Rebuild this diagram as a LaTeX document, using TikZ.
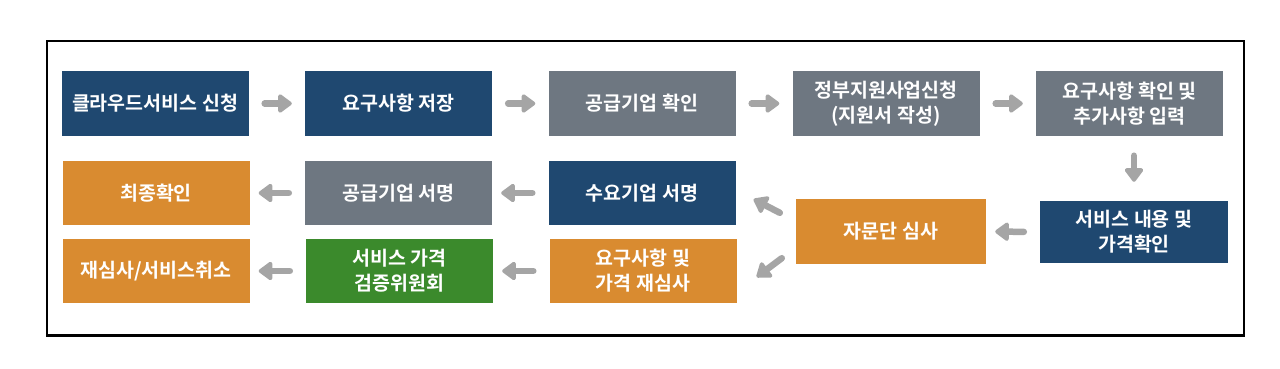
\documentclass[tikz,border=0pt]{standalone}
\usepackage{fontspec}
\setmainfont{Noto Sans CJK KR Bold}
\usetikzlibrary{arrows.meta}
\definecolor{cblue}{HTML}{1F4870}
\definecolor{cgray}{HTML}{6E7781}
\definecolor{corange}{HTML}{D98B30}
\definecolor{cgreen}{HTML}{3B8A2C}
\definecolor{carrow}{HTML}{A5A5A5}
\tikzset{
  box/.style={minimum width=187pt, minimum height=64pt, inner sep=0pt,
    text=white, font=\fontsize{19.5}{25}\selectfont, align=center},
  bluebox/.style={box, fill=cblue},
  graybox/.style={box, fill=cgray},
  orangebox/.style={box, fill=corange},
  greenbox/.style={box, fill=cgreen},
  arr/.style={draw=carrow, line width=6.5pt, line cap=round, line join=round,
    -{Triangle[width=21pt,length=15pt,round]}},
}
\begin{document}
\begin{tikzpicture}[x=1pt,y=-1pt]
\useasboundingbox (0,0) rectangle (1280,369);
\fill[white] (0,0) rectangle (1280,369);
\draw[line width=2.5pt, black] (47,41) rectangle (1244,335.5);
% row 1
\node[bluebox] (b1) at (155,103.5) {클라우드서비스 신청};
\node[bluebox] (b2) at (398.5,103.5) {요구사항 저장};
\node[graybox] (b3) at (642,103.5) {공급기업 확인};
\node[graybox] (b4) at (886,103.5) {정부지원사업신청\\(지원서 작성)};
\node[graybox] (b5) at (1129.5,103.5) {요구사항 확인 및\\추가사항 입력};
% row 2
\node[orangebox] (b6) at (156,193) {최종확인};
\node[graybox] (b7) at (398.5,193) {공급기업 서명};
\node[bluebox] (b8) at (642,193) {수요기업 서명};
% row 3
\node[orangebox] (b9) at (156,271) {재심사/서비스취소};
\node[greenbox] (b10) at (399.5,271) {서비스 가격\\검증위원회};
\node[orangebox] (b11) at (643,271) {요구사항 및\\가격 재심사};
% middle
\node[orangebox, minimum width=190pt, minimum height=65pt] (b12) at (891,231.5) {자문단 심사};
\node[bluebox, minimum width=188pt, minimum height=62pt] (b13) at (1134,232) {서비스 내용 및\\가격확인};
% arrows row 1
\draw[arr, shorten <=16pt, shorten >=13pt] (b1) -- (b2);
\draw[arr, shorten <=16pt, shorten >=13pt] (b2) -- (b3);
\draw[arr, shorten <=16pt, shorten >=13pt] (b3) -- (b4);
\draw[arr, shorten <=16pt, shorten >=13pt] (b4) -- (b5);
% down
\draw[arr, shorten <=20pt, shorten >=19pt] (b5.south -| b13.north) -- (b13.north);
% middle
\draw[arr, shorten <=16pt, shorten >=9pt] (b13.west) -- (b12.east);
\draw[arr] ([shift={(-16,14)}]b12.north west) -- ([shift={(18,-26)}]b8.south east);
\draw[arr] ([shift={(-14,-6)}]b12.south west) -- ([shift={(20,6)}]b11.east);
% row 2
\draw[arr, shorten <=16pt, shorten >=9pt] (b8) -- (b7);
\draw[arr, shorten <=16pt, shorten >=9pt] (b7) -- (b6);
% row 3
\draw[arr, shorten <=16pt, shorten >=9pt] (b11) -- (b10);
\draw[arr, shorten <=16pt, shorten >=9pt] (b10) -- (b9);
\end{tikzpicture}
\end{document}
